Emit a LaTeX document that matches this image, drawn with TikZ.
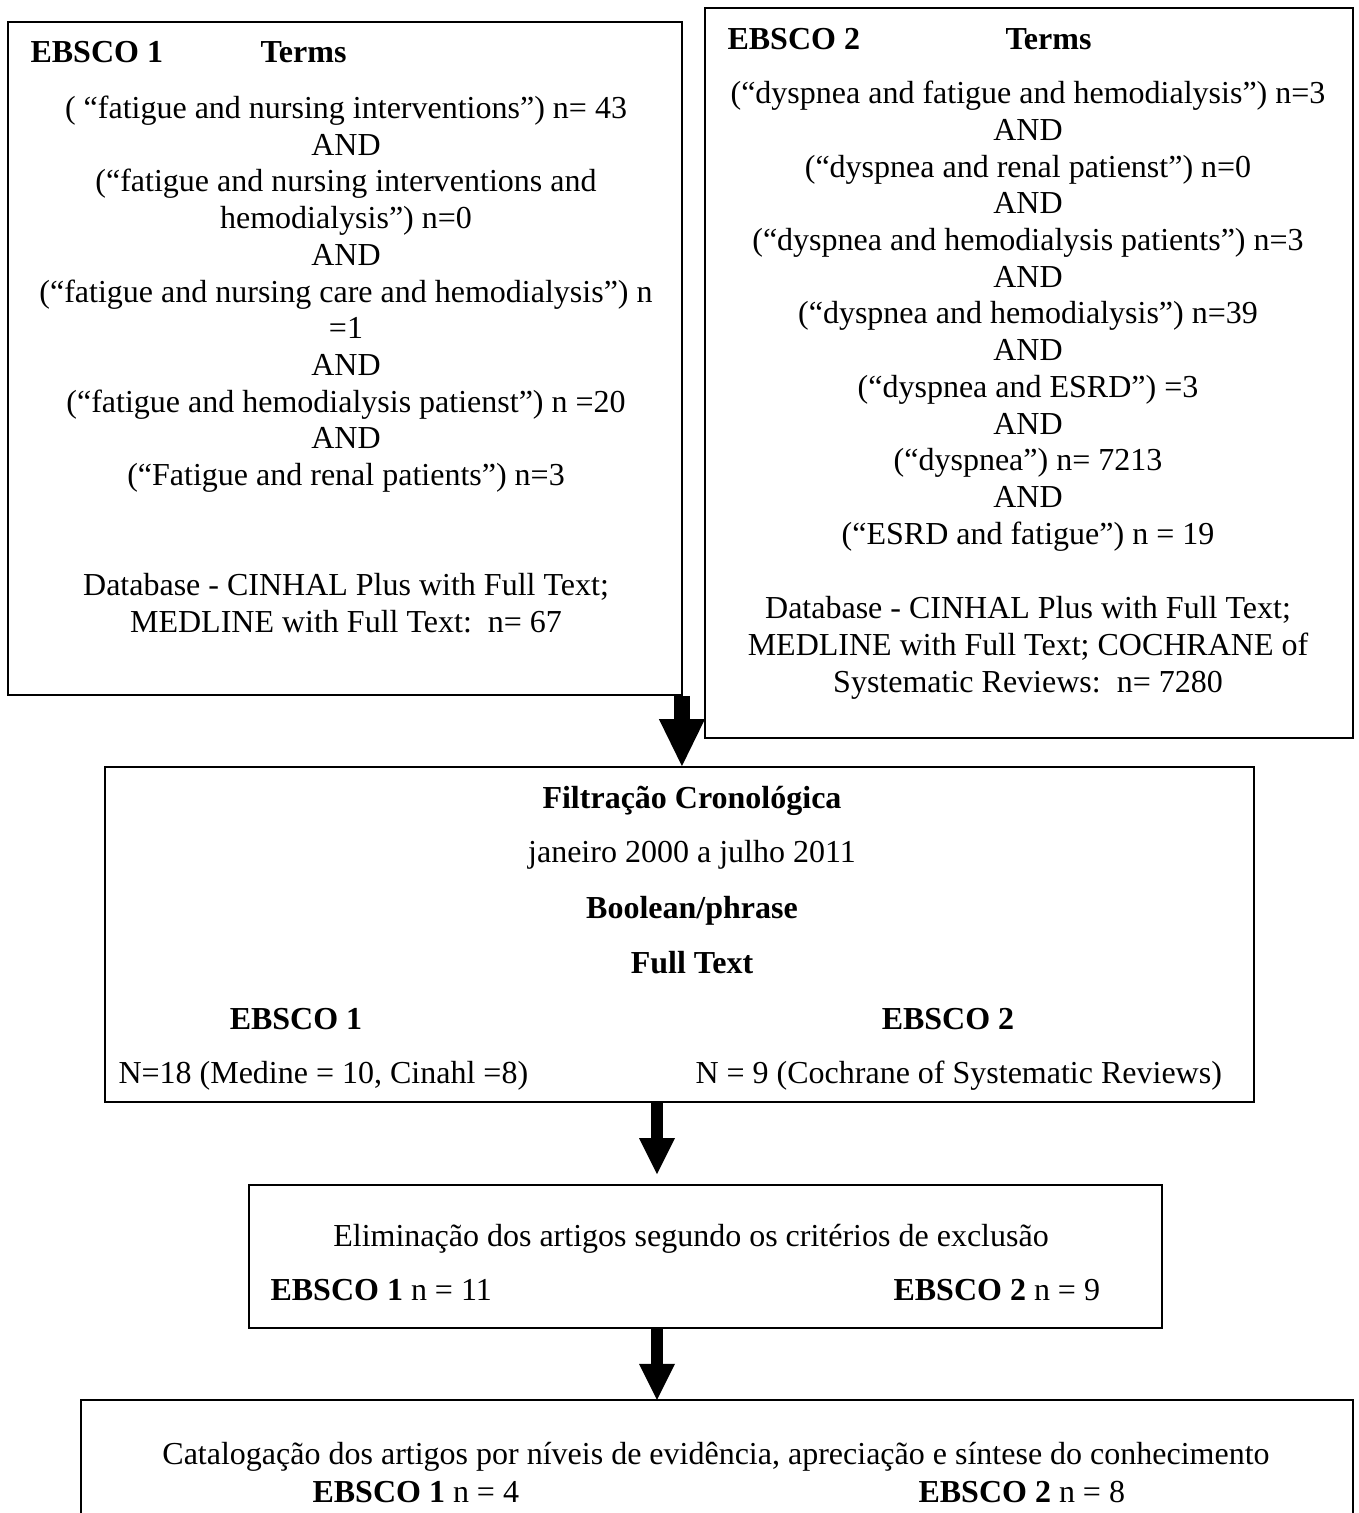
\documentclass[tikz,border=0pt]{standalone}
\usepackage{fontspec}
\setmainfont{Liberation Serif}
\usetikzlibrary{arrows.meta,fit}
\begin{document}
\begin{tikzpicture}[x=0.375pt,y=-0.375pt,
  font=\fontsize{12}{13.8}\selectfont,
  box/.style={draw, line width=0.7pt, inner sep=0pt},
  txt/.style={anchor=base, inner sep=0pt},
  txtw/.style={anchor=base west, inner sep=0pt},
  bigarrow/.style={line width=6pt, -{Triangle[width=17.25pt,length=17.6pt,line width=0pt]}},
  smallarrow/.style={line width=4.5pt, -{Triangle[width=13.5pt,length=13.5pt,line width=0pt]}}]
\useasboundingbox (0,0) rectangle (1359,1513);
\fill[white] (0,0) rectangle (1359,1513);

% boxes
\node[box, fit={(8,22)(682,695)}] (b1) {};
\node[box, fit={(705,8)(1353,738)}] (b2) {};
\node[box, fit={(105,767)(1254,1102)}] (b3) {};
\node[box, fit={(249,1185)(1162,1328)}] (b4) {};
\node[inner sep=0pt, fit={(81.5,1400.5)(1352.5,1530)}] (b5) {};
\draw[line width=0.8pt] (b5.south west) -- (b5.north west) -- (b5.north east) -- (b5.south east);

% box 1
\node[txtw, font=\fontsize{12}{13.8}\selectfont\bfseries] (h1a) at (30,62) {EBSCO 1};
\node[txtw, font=\fontsize{12}{13.8}\selectfont\bfseries] (h1b) at (260,62) {Terms};
\foreach \y/\t [count=\i] in {
  118/{( “fatigue and nursing interventions”) n= 43},
  155/{AND},
  191/{(“fatigue and nursing interventions and},
  228/{hemodialysis”) n=0},
  265/{AND},
  302/{(“fatigue and nursing care and hemodialysis”) n},
  338/{=1},
  375/{AND},
  412/{(“fatigue and hemodialysis patienst”) n =20},
  448/{AND},
  485/{(“Fatigue and renal patients”) n=3},
  595/{Database - CINHAL Plus with Full Text;},
  632/{MEDLINE with Full Text:\ \ n= 67}}
  \node[txt] (a\i) at (346,\y) {\t};

% box 2
\node[txtw, font=\fontsize{12}{13.8}\selectfont\bfseries] (h2a) at (727,49) {EBSCO 2};
\node[txtw, font=\fontsize{12}{13.8}\selectfont\bfseries] (h2b) at (1005,49) {Terms};
\foreach \y/\t [count=\i] in {
  103/{(“dyspnea and fatigue and hemodialysis”) n=3},
  140/{AND},
  177/{(“dyspnea and renal patienst”) n=0},
  213/{AND},
  250/{(“dyspnea and hemodialysis patients”) n=3},
  287/{AND},
  323/{(“dyspnea and hemodialysis”) n=39},
  360/{AND},
  397/{(“dyspnea and ESRD”) =3},
  434/{AND},
  470/{(“dyspnea”) n= 7213},
  507/{AND},
  544/{(“ESRD and fatigue”) n = 19},
  618/{Database - CINHAL Plus with Full Text;},
  655/{MEDLINE with Full Text; COCHRANE of},
  692/{Systematic Reviews:\ \ n= 7280}}
  \node[txt] (c\i) at (1028,\y) {\t};

% box 3
\node[txt, font=\fontsize{12}{13.8}\selectfont\bfseries] (f1) at (692,808) {Filtração Cronológica};
\node[txt] (f2) at (692,862) {janeiro 2000 a julho 2011};
\node[txt, font=\fontsize{12}{13.8}\selectfont\bfseries] (f3) at (692,918) {Boolean/phrase};
\node[txt, font=\fontsize{12}{13.8}\selectfont\bfseries] (f4) at (692,973) {Full Text};
\node[txt, font=\fontsize{12}{13.8}\selectfont\bfseries] (f5) at (296,1029) {EBSCO 1};
\node[txt, font=\fontsize{12}{13.8}\selectfont\bfseries] (f6) at (948,1029) {EBSCO 2};
\node[txtw] (f7) at (118,1083) {N=18 (Medine = 10, Cinahl =8)};
\node[txtw] (f8) at (695,1083) {N = 9 (Cochrane of Systematic Reviews)};

% box 4
\node[txt] (e1) at (691,1246) {Eliminação dos artigos segundo os critérios de exclusão};
\node[txtw] (e2) at (270,1300) {\textbf{EBSCO 1} n = 11};
\node[txtw] (e3) at (893,1300) {\textbf{EBSCO 2} n = 9};

% box 5
\node[txt] (g1) at (716,1464) {Catalogação dos artigos por níveis de evidência, apreciação e síntese do conhecimento};
\node[txtw] (g2) at (312,1502) {\textbf{EBSCO 1} n = 4};
\node[txtw] (g3) at (918,1502) {\textbf{EBSCO 2} n = 8};

% arrows
\coordinate (s1) at ([xshift=-0.375pt]b1.south east);
\draw[bigarrow] (s1) -- (s1 |- b3.north);
\coordinate (s2) at (b3.south -| 657,0);
\coordinate (t2) at (657,1174);
\draw[smallarrow] (s2) -- (t2);
\coordinate (s3) at (b4.south -| 657,0);
\draw[smallarrow] (s3) -- (s3 |- b5.north);
\end{tikzpicture}
\end{document}
